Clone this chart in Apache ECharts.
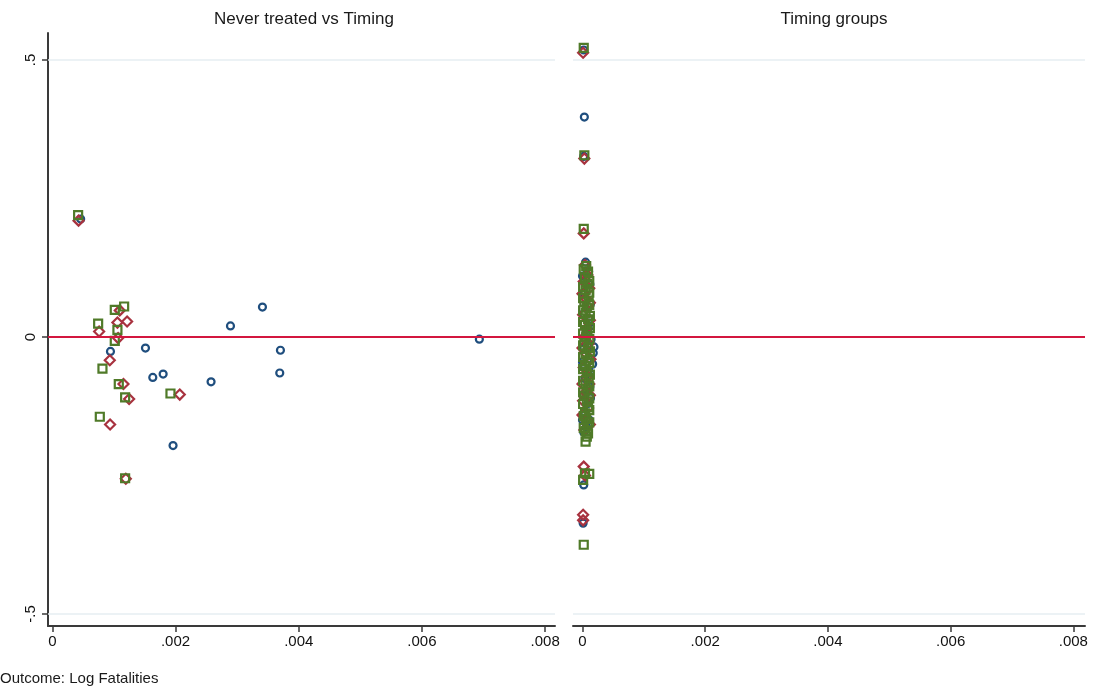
<!DOCTYPE html>
<html>
<head>
<meta charset="utf-8">
<script src="https://cdn.jsdelivr.net/npm/echarts@6/dist/echarts.min.js"></script>
<style>
html,body{margin:0;padding:0;background:#fff;}
#c{width:1094px;height:698px;}
</style>
</head>
<body>
<div id="c"></div>
<script>
// Panel titles and note
const panelTitles = ["Never treated vs Timing", "Timing groups"];
const noteText = "Outcome: Log Fatalities";
// Tick values
const xTicks = [0, 0.002, 0.004, 0.006, 0.008];
const yTicks = [-0.5, 0, 0.5];

// Left panel: Never treated vs Timing  [weight, estimate]
const ntBlue = [[0.00046,0.213],[0.000944,-0.026],[0.001512,-0.020],[0.001631,-0.073],[0.001799,-0.067],[0.00196,-0.196],[0.002577,-0.081],[0.002892,0.020],[0.003411,0.054],[0.003692,-0.065],[0.003703,-0.024],[0.006932,-0.004]];
const ntRed = [[0.000426,0.210],[0.001095,0.048],[0.001057,0.026],[0.001214,0.028],[0.00076,0.010],[0.001068,-0.002],[0.000933,-0.042],[0.001155,-0.085],[0.001247,-0.112],[0.002069,-0.104],[0.000938,-0.158],[0.001193,-0.256]];
const ntGreen = [[0.000419,0.220],[0.001166,0.055],[0.001014,0.049],[0.000744,0.024],[0.001057,0.013],[0.001014,-0.007],[0.000814,-0.057],[0.001079,-0.085],[0.001182,-0.109],[0.001918,-0.102],[0.000771,-0.144],[0.001182,-0.255]];

// Right panel: Timing groups  [weight, estimate]
const tgBlue = [[0.00002,0.518],[0.00003,0.397],[0.00002,0.326],[0.00002,-0.267],[0.00001,-0.336],[0.000187,-0.018],[0.000175,-0.029],[0.000165,-0.049],
  [0.00005,0.135],[0.0001,0.118],[0.00012,0.095],[0.00003,0.078],[0.00013,0.060],[0.00002,0.042],[0.00011,0.025],[0.00006,0.008],[0.00014,-0.004],[0.00002,-0.020],[0.0001,-0.060],[0.00004,-0.075],[0.00012,-0.090],[0.00001,-0.105],[0.00009,-0.120],[0.00003,-0.135],[0.00011,-0.150],[0.00006,-0.162],[0.00002,-0.172],
  [0.0,0.110],[0.00013,0.020],[0.0,-0.045],[0.00013,-0.110],[0.0,-0.150]];
const tgRed = [[0.00001,0.513],[0.00003,0.322],[0.00002,0.187],[0.00002,-0.234],[0.00004,-0.250],[0.00001,-0.321],[0.00001,-0.331],[0.0,-0.141],
  [0.00004,0.130],[0.00008,0.112],[0.00002,0.100],[0.00011,0.088],[0.00005,0.070],[0.00009,0.055],[0.00001,0.040],[0.00012,0.030],[0.00006,0.015],[0.00003,0.000],[0.0001,-0.012],[0.00004,-0.028],[0.00013,-0.040],[0.00002,-0.055],[0.00008,-0.070],[0.00011,-0.085],[0.00005,-0.100],[0.00001,-0.115],[0.00009,-0.128],[0.00006,-0.150],[0.00012,-0.158],[0.00003,-0.168],
  [0.0,0.078],[0.00012,0.062],[0.0,-0.020],[0.00012,-0.105],[0.0,-0.085]];
const tgGreen = [[0.00002,0.522],[0.00003,0.328],[0.00002,0.195],[0.00005,-0.189],[0.00004,-0.246],[0.00011,-0.247],[0.00001,-0.258],[0.00002,-0.375],
  [0.00006,0.128],[0.00009,0.118],[0.00004,0.107],[0.00008,0.096],[0.00005,0.085],[0.0001,0.075],[0.00003,0.064],[0.00007,0.053],[0.00005,0.043],[0.00009,0.032],[0.00004,0.022],[0.00008,0.011],[0.00006,0.001],[0.00003,-0.010],[0.00009,-0.020],[0.00005,-0.031],[0.00008,-0.042],[0.00004,-0.052],[0.00007,-0.063],[0.0001,-0.074],[0.00005,-0.084],[0.00008,-0.095],[0.00003,-0.106],[0.00007,-0.116],[0.00009,-0.127],[0.00004,-0.138],[0.00006,-0.148],[0.00008,-0.159],[0.00005,-0.170],[0.00007,-0.180],
  [0.00002,0.122],[0.00011,0.101],[0.00001,0.090],[0.00011,0.080],[0.00001,0.070],[0.00011,0.058],[0.00001,0.048],[0.00012,0.038],[0.00001,0.027],[0.00012,0.016],[0.00001,0.006],[0.00011,-0.004],[0.00001,-0.015],[0.00012,-0.026],[0.00001,-0.036],[0.00011,-0.047],[0.00001,-0.058],[0.00012,-0.068],[0.00001,-0.079],[0.00011,-0.089],[0.00001,-0.100],[0.00011,-0.111],[0.00001,-0.121],[0.00011,-0.132],[0.00002,-0.143],[0.00011,-0.154],[0.00002,-0.164],[0.00009,-0.174]];

const BLUE = '#1f4e7e', RED = '#a8323f', GREEN = '#4f7a28', LINE_RED = '#d3173f', GRID = '#e6eef2', AX = '#3a3a3a';
const FONT = "'Liberation Sans Narrow','Liberation Sans',Arial,sans-serif";

const chart = echarts.init(document.getElementById('c'), null, {renderer:'canvas'});

function xFmt(v){ return v === 0 ? '0' : v.toFixed(3).replace(/^0/, ''); }
function yFmt(v){ return v === 0 ? '0' : (v < 0 ? '-' : '') + String(Math.abs(v)).replace(/^0/, ''); }

function xAxis(gi, min, max){
  return {
    type:'value', gridIndex: gi, min: min, max: max,
    axisLine:{show:true, onZero:false, lineStyle:{color:AX, width:2}},
    axisTick:{show:true, length:6, lineStyle:{color:AX, width:1.5}, customValues: xTicks},
    axisLabel:{show:true, margin:8, color:'#111', fontSize:15, fontFamily:FONT, customValues: xTicks, formatter: xFmt},
    splitLine:{show:false}
  };
}
function yAxis(gi, show){
  return {
    type:'value', gridIndex: gi, min:-0.5217, max:0.5487,
    axisLine:{show:show, onZero:false, lineStyle:{color:AX, width:2}},
    axisTick:{show:show, length:6, lineStyle:{color:AX, width:1.5}, customValues: yTicks},
    axisLabel:{show:show, rotate:90, margin:10, color:'#111', fontSize:15, fontFamily:FONT, customValues: yTicks, formatter: yFmt},
    splitLine:{show:false}
  };
}
function refLines(){
  return {
    silent:true, symbol:'none', label:{show:false}, animation:false,
    data: [
      {yAxis: 0.5, lineStyle:{color:GRID, width:1.5, type:'solid'}},
      {yAxis: -0.5, lineStyle:{color:GRID, width:1.5, type:'solid'}},
      {yAxis: 0, lineStyle:{color:LINE_RED, width:2, type:'solid'}}
    ]
  };
}
function sc(data, gi, symbol, size, color, withLines){
  const s = {
    type:'scatter', xAxisIndex: gi, yAxisIndex: gi, data: data, symbol: symbol, symbolSize: size,
    itemStyle:{color:'rgba(0,0,0,0)', borderColor: color, borderWidth: 2.2, opacity:1},
    emphasis:{disabled:true}, animation:false
  };
  if (withLines) s.markLine = refLines();
  return s;
}

chart.setOption({
  backgroundColor:'#fff',
  animation:false,
  title:[
    {text: panelTitles[0], left: 299, top: 6, textAlign:'center', textStyle:{fontSize:17, fontWeight:'normal', color:'#1a1a1a', fontFamily:FONT}},
    {text: panelTitles[1], left: 829, top: 6, textAlign:'center', textStyle:{fontSize:17, fontWeight:'normal', color:'#1a1a1a', fontFamily:FONT}},
    {text: noteText, left: 0, top: 671, padding:0, textStyle:{fontSize:15, fontWeight:'normal', color:'#1a1a1a', fontFamily:FONT}}
  ],
  grid:[
    {left:48, top:33, width:507, height:593},
    {left:573, top:33, width:512, height:593}
  ],
  xAxis:[ xAxis(0, -0.00007, 0.00816), xAxis(1, -0.000155, 0.00819) ],
  yAxis:[ yAxis(0, true), yAxis(1, false) ],
  series:[
    sc(ntBlue, 0, 'circle', 7, BLUE, true),
    sc(ntRed, 0, 'diamond', 10, RED, false),
    sc(ntGreen, 0, 'rect', 8, GREEN, false),
    sc(tgBlue, 1, 'circle', 7, BLUE, true),
    sc(tgRed, 1, 'diamond', 10, RED, false),
    sc(tgGreen, 1, 'rect', 8, GREEN, false)
  ]
});
</script>
</body>
</html>
